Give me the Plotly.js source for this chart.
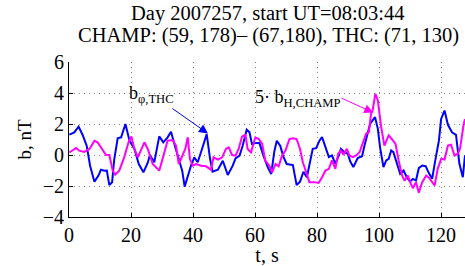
<!DOCTYPE html>
<html>
<head>
<meta charset="utf-8">
<script src="https://cdn.plot.ly/plotly-3.0.1.min.js"></script>
<style>html,body{margin:0;padding:0;background:#fff;}#chart{width:465px;height:266px;}</style>
</head>
<body>
<div id="chart"></div>
<script>
// b_phi,THC (blue)
const tThc = [0.1,1.7,3.1,4.4,5.7,6.8,8.2,9.5,10.3,11.4,12.2,13,13.9,14.6,15.7,16.8,18.2,19.5,21.1,22.5,24,25.4,26.1,27.5,29.1,30.4,31.8,32.9,34.3,35.6,36.5,37.3,38.3,39.4,40.4,41.5,42.9,44.4,45.5,46.3,48,49.6,51.2,52.8,53.7,55,56,57.3,58.2,59,60.1,61.4,62.7,64.1,65.2,66.2,67,68.1,69.1,70.2,72.2,73.4,74.5,75.6,76.7,77.5,78.6,79.7,80.8,81.6,82.7,83.8,84.8,85.9,87,87.7,88.8,89.9,90.7,91.7,93.1,94.5,95.3,96.3,97.1,97.9,98.7,99.6,100.3,101.4,102.3,103.1,103.9,104.6,105.5,106.8,107.9,108.9,110,110.9,111.9,112.8,113.9,115,116,117.1,118.2,119.3,120,121.1,122.2,123.5,124.8,125.9,127,127.7];
const bThc = [1.31,1.46,1.83,1.29,0.6,-0.69,-1.72,-1.33,-0.95,-1.01,-1.0,-1.94,-1.76,-0.26,1.08,1.14,2.0,0.92,0.39,-0.58,-1.12,-0.5,0,-0.47,1.2,0.82,1.14,1.5,0.49,-0.47,-1.01,-2.04,-1.33,-0.65,-0.15,-0.47,0.39,1.35,-0.26,-1.08,-0.95,-0.37,-1.29,-0.69,-0.22,-0.04,0.6,1.63,1.46,0.71,0.77,0.77,-0.04,-0.8,-1.23,0.22,0.92,0.6,-0.09,-0.58,-0.65,-1.94,-1.72,-1.08,-1.44,-0.68,0.4,0.44,0.94,1.15,0.44,-0.14,-0.03,-0.57,-0.03,0.4,0.18,0.08,-0.42,-0.78,-0.2,-0.08,0.61,1.37,2.01,2.23,2.44,1.69,0.51,-0.78,-0.35,-0.25,0.29,0.18,-0.35,-1.22,-1.0,-1.43,-1.71,-1.54,-1.65,-0.85,-0.68,-0.72,-1.15,-1.54,-0.25,0.94,2.33,2.87,1.95,1.47,1.3,-0.57,-1.43,-0.03];
// 5*b_H,CHAMP (magenta)
const tCh = [0.1,2.3,3.3,4.9,6.6,8.2,9.2,10.9,11.9,13,14.1,14.9,16.2,17.8,19.2,20.1,21.1,22.2,23.2,24.3,25.4,27,29.1,30.8,31.8,33.4,34.5,35.4,36.5,37.5,38.3,39,39.9,41,42.6,44.2,45.8,46.6,48,49.4,50.6,51.5,52.6,53.7,54.7,55.8,56.9,57.6,58.7,60.1,61.2,62.3,63.3,64.6,65.5,66.6,67.6,68.7,69.8,71.1,72.2,73.4,74.5,75.4,76.5,77.5,79.1,80.5,81.6,82.7,83.8,84.8,85.9,86.8,87.7,88.5,89.6,90.4,91.5,92.6,93.7,94.7,95.8,96.7,97.4,97.9,98.8,99.6,100.6,101.7,102.3,103.1,104.2,105.3,106.3,107.4,108.2,109.3,110,110.9,111.9,112.8,113.9,115.2,116.2,117.9,118.9,120,121.1,122.2,123.2,124.3,125.4,126.1,127.2,127.7];
const bCh = [0.17,0.45,0.28,0.2,0.39,0.92,0.82,0.28,0.02,0,-1.01,-1.27,-1.01,-0.15,0.82,1.2,0.39,-0.15,0.28,0.82,0.39,-0.58,-1.01,0.28,0.92,0.97,0.6,-0.58,-0.04,0.39,1.14,-0.26,-0.69,-0.58,-0.69,-0.73,-0.95,-0.15,-0.3,-0.15,0.39,0.49,0,-0.04,0.39,1.2,1.29,0.39,0.17,1.14,1.03,0.71,-0.37,-0.69,-1.12,-0.58,-0.73,-0.04,0.28,1.03,1.08,1.03,0.39,-0.47,-1.11,-1.75,-1.75,-1.8,-1.43,-1.0,-0.89,-0.35,-0.89,0.08,0.29,0.01,0.4,-0.03,-0.14,-0.03,0.18,0.72,1.37,1.47,2.66,2.87,3.95,3.52,1.9,0.61,0.94,1.26,1.0,0.72,-0.35,-1.32,-1.65,-1.32,-1.75,-2.14,-1.75,-2.44,-1.75,-1.32,-1.49,-1.97,-0.89,-0.25,-0.29,0.61,0.66,-0.03,0.08,0.4,1.9,2.33];
const xTicks = [0,20,40,60,80,100,120];
const yTicks = [-4,-2,0,2,4,6];
const titleLines = ['Day 2007257, start UT=08:03:44','CHAMP: (59, 178)\u2013 (67,180), THC: (71, 130)'];

const serif = 'Liberation Serif, Times New Roman, serif';
const traces = [
  {x: tThc, y: bThc, type: 'scatter', mode: 'lines', line: {color: '#0000ff', width: 2}, hoverinfo: 'skip'},
  {x: tCh, y: bCh, type: 'scatter', mode: 'lines', line: {color: '#ff00ff', width: 2}, hoverinfo: 'skip'}
];
const axisCommon = {
  showline: true, linecolor: '#000', linewidth: 1, mirror: false,
  ticks: 'inside', ticklen: 4, tickcolor: '#000',
  showgrid: true, gridcolor: '#888', griddash: '1px,4px', gridwidth: 1,
  zeroline: false, tickfont: {family: serif, size: 20, color: '#000'}
};
const titleFont = {family: serif, size: 20.5, color: '#000'};
const layout = {
  width: 465, height: 266,
  margin: {l: 69, r: 0, t: 62, b: 49},
  paper_bgcolor: '#fff', plot_bgcolor: '#fff',
  showlegend: false,
  xaxis: Object.assign({}, axisCommon, {range: [0, 127.7], tickvals: xTicks, ticktext: xTicks.map(String),
    title: {text: 't, s', font: {family: serif, size: 20, color: '#000'}, standoff: 2}}),
  yaxis: Object.assign({}, axisCommon, {range: [-4, 6], tickvals: yTicks, ticktext: yTicks.map(v => v < 0 ? '\u2212' + Math.abs(v) : String(v)),
    title: {text: 'b, nT', font: {family: serif, size: 19, color: '#000'}, standoff: 6}}),
  annotations: [
    {x: 0.502, y: 1.31, xref: 'paper', yref: 'paper', xanchor: 'center', yanchor: 'middle', showarrow: false,
     text: titleLines[0], font: titleFont},
    {x: 0.504, y: 1.172, xref: 'paper', yref: 'paper', xanchor: 'center', yanchor: 'middle', showarrow: false,
     text: titleLines[1], font: titleFont},
    {x: 18.6, y: 3.88, xref: 'x', yref: 'y', xanchor: 'left', yanchor: 'middle', showarrow: false,
     text: 'b<sub>\u03c6,THC</sub>', font: {family: serif, size: 18, color: '#000'}},
    {x: 44.8, y: 1.39, ax: 32.9, ay: 3.06, xref: 'x', yref: 'y', axref: 'x', ayref: 'y', text: '', showarrow: true,
     arrowhead: 2, arrowsize: 1.8, arrowwidth: 1, arrowcolor: '#0000ff'},
    {x: 59.2, y: 3.65, xref: 'x', yref: 'y', xanchor: 'left', yanchor: 'middle', showarrow: false,
     text: '5\u00b7 b<sub>H,CHAMP</sub>', font: {family: serif, size: 18, color: '#000'}},
    {x: 98.1, y: 2.74, ax: 87.4, ay: 3.71, xref: 'x', yref: 'y', axref: 'x', ayref: 'y', text: '', showarrow: true,
     arrowhead: 2, arrowsize: 1.8, arrowwidth: 1, arrowcolor: '#ff00ff'}
  ]
};
Plotly.newPlot('chart', traces, layout, {staticPlot: true, displayModeBar: false});
</script>
</body>
</html>
